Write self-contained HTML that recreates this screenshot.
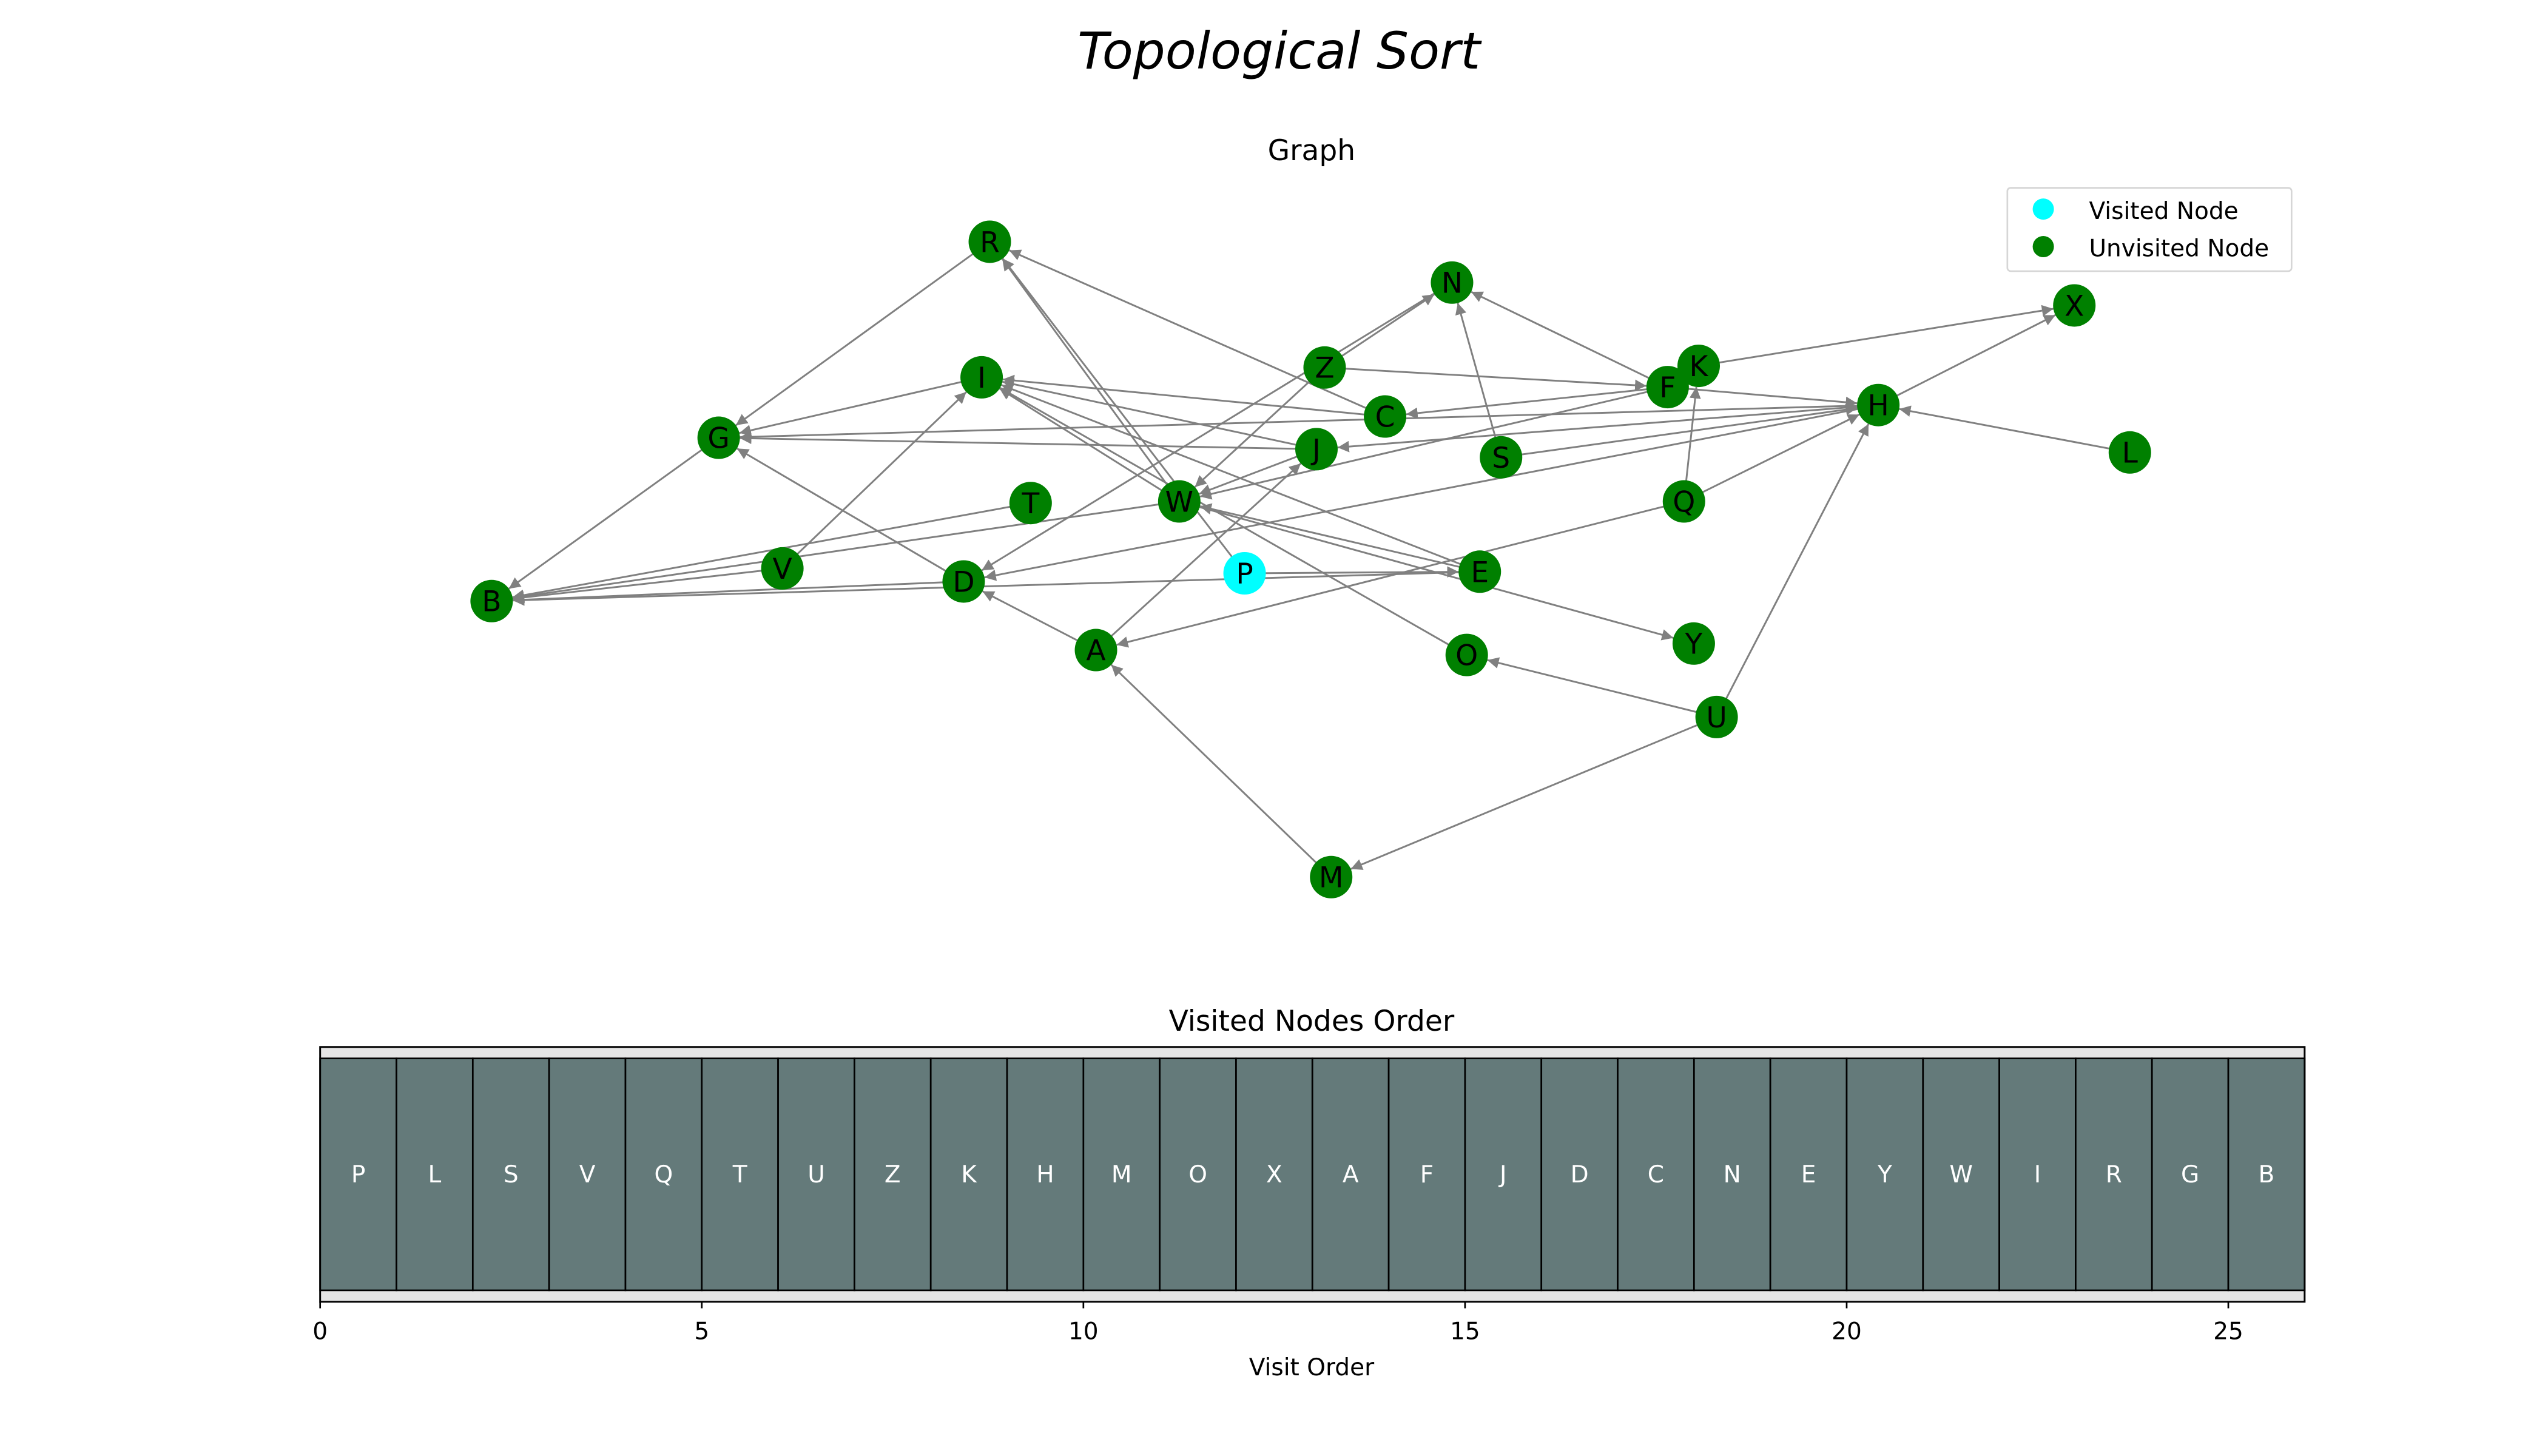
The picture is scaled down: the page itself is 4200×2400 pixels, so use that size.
<!DOCTYPE html>
<html><head><meta charset="utf-8"><title>Topological Sort</title>
<style>html,body{margin:0;padding:0;background:#fff}svg{display:block}</style></head>
<body>
<svg id="chart" width="4200" height="2400" viewBox="0 0 1560 891.43" preserveAspectRatio="none" xmlns="http://www.w3.org/2000/svg" font-family="'DejaVu Sans','Liberation Sans',sans-serif">
<defs><marker id="ah" viewBox="0 0 10 10" refX="10" refY="5" markerWidth="7" markerHeight="7" markerUnits="userSpaceOnUse" orient="auto"><path d="M0,0 L10,5 L0,10 z" fill="#808080"/></marker></defs>
<text x="783" y="42" font-size="31" font-style="italic" text-anchor="middle">Topological Sort</text>
<text x="803" y="98" font-size="17.5" text-anchor="middle">Graph</text>
<g id="edges"></g>
<g id="nodes"></g>
<g>
<rect x="1229" y="115" width="174" height="51" rx="2" fill="#fff" stroke="#d6d6d6" stroke-width="1"/>
<circle cx="1251" cy="128" r="6.5" fill="#00ffff"/>
<text x="1279" y="134" font-size="14.5">Visited Node</text>
<circle cx="1251" cy="151" r="6.5" fill="#008000"/>
<text x="1279" y="157" font-size="14.5">Unvisited Node</text>
</g>
<text x="803" y="631" font-size="17.5" text-anchor="middle">Visited Nodes Order</text>
<g id="order"></g>
<text x="803" y="842" font-size="14.5" text-anchor="middle">Visit Order</text>
</svg>
<script>
const nodeNames = ["R","N","X","Z","K","I","F","H","C","G","J","S","L","T","W","Q","V","P","E","D","B","Y","A","O","U","M"];
const nodeX = [606,889,1270,811,1040,601,1021,1150,848,440,806,919,1304,631,722,1031,479,762,906,590,301,1037,671,898,1051,815];
const nodeY = [148,173,187,225,224,231,237,248,255,268,275,280,277,308,307,307,348,351,350,356,368,394,398,401,439,537];
const visitedNodes = ["P"];
const edgeFrom = ["R","C","W","P","Z","N","Z","S","F","Z","K","H","F","F","L","H","H","S","H","Q","Q","Q","U","U","U","M","A","A","J","F","J","C","W","E","O","I","J","D","G","V","V","T","W","D","P","E","E","W"];
const edgeTo   = ["G","R","R","R","N","D","W","N","N","F","X","X","C","H","H","J","G","H","D","H","K","A","H","O","M","A","D","J","W","W","I","I","I","I","I","G","G","G","B","I","B","B","B","B","E","B","W","Y"];
const order = ["P","L","S","V","Q","T","U","Z","K","H","M","O","X","A","F","J","D","C","N","E","Y","W","I","R","G","B"];
const xTicks = [0,5,10,15,20,25];

const NS="http://www.w3.org/2000/svg";
function mk(t,a,p){const e=document.createElementNS(NS,t);for(const k in a)e.setAttribute(k,a[k]);p.appendChild(e);return e;}
const R=13;
function pos(n){const i=nodeNames.indexOf(n);return [nodeX[i],nodeY[i]];}
const eg=document.getElementById('edges');
edgeFrom.forEach((f,i)=>{
  const [x1,y1]=pos(f),[x2,y2]=pos(edgeTo[i]);
  const dx=x2-x1,dy=y2-y1,L=Math.hypot(dx,dy);
  const l=mk('line',{x1:x1,y1:y1,x2:x2-dx/L*R,y2:y2-dy/L*R,stroke:'#808080','stroke-width':1.1,'marker-end':'url(#ah)'},eg);
  
  
});
const ng=document.getElementById('nodes');
nodeNames.forEach((n,i)=>{
  const g=mk('g',{},ng);
  
  
  mk('circle',{cx:nodeX[i],cy:nodeY[i],r:R,fill:visitedNodes.includes(n)?'#00ffff':'#008000'},g);
  const t=mk('text',{x:nodeX[i],y:nodeY[i]+6.3,'font-size':17.5,'text-anchor':'middle',fill:'#000'},g);
  t.textContent=n;
});
// bottom panel
const og=document.getElementById('order');
const ax0=196,ax1=1411,ay0=641,ay1=797,by0=648,by1=790;
const xs=v=>ax0+v*(ax1-ax0)/26;
mk('rect',{x:ax0,y:ay0,width:ax1-ax0,height:ay1-ay0,fill:'#e5e5e5'},og);
order.forEach((n,i)=>{
  const r=mk('rect',{x:xs(i),y:by0,width:xs(i+1)-xs(i),height:by1-by0,fill:'#647a7a',stroke:'#000','stroke-width':1},og);
  
  
  const t=mk('text',{x:(xs(i)+xs(i+1))/2,y:(by0+by1)/2+5,'font-size':14.5,'text-anchor':'middle',fill:'#fff'},og);
  
  
  t.textContent=n;
});
mk('rect',{x:ax0,y:ay0,width:ax1-ax0,height:ay1-ay0,fill:'none',stroke:'#000','stroke-width':1.1},og);
xTicks.forEach(v=>{
  mk('line',{x1:xs(v),y1:ay1,x2:xs(v),y2:ay1+4,stroke:'#000','stroke-width':1},og);
  const t=mk('text',{x:xs(v),y:ay1+23,'font-size':14.5,'text-anchor':'middle'},og);
  
  
  t.textContent=v;
});
</script>
</body></html>
